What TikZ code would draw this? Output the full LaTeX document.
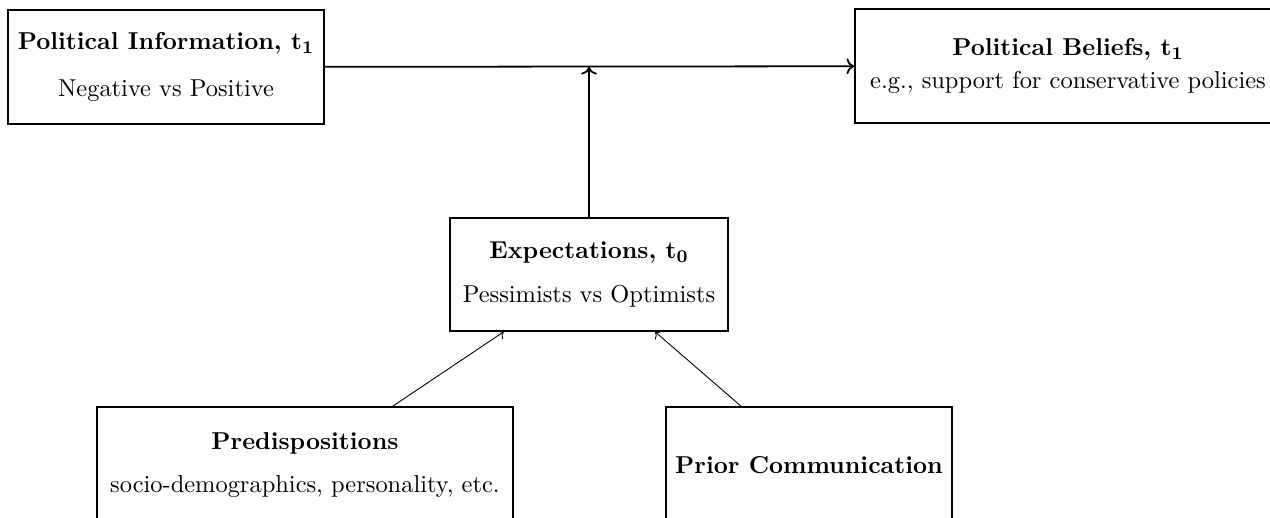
\documentclass[tikz,border=0pt]{standalone}
\usepackage{amsmath}
\usepackage{tikz}
\usetikzlibrary{
  arrows.meta,
  positioning,
  calc
}
\newcommand{\period}[1]{$\mathbf{t_{#1}}$}

\begin{document}
\begin{tikzpicture}[
  box/.style={
    draw=black,
    align=center,
    inner sep=2pt,
    font=\fontsize{10.95}{13.6}\selectfont
  },
  mainbox/.style={box, thick, minimum height=1.795cm},
  subbox/.style={box, semithick}
]
\useasboundingbox (0,0) rectangle (20,8.142);

\node[mainbox, minimum width=4.976cm] (info) at (2.614,7.087)
  {\textbf{Political Information, \period{1}}\\[7.5pt] Negative vs Positive};
\node[mainbox, minimum width=6.709cm] (beliefs) at (16.819,7.102)
  {\textbf{Political Beliefs, \period{1}}\\[1.2pt] e.g., support for conservative policies};
\node[subbox, minimum width=4.378cm, minimum height=1.78cm] (expect) at (9.276,3.819)
  {\textbf{Expectations, \period{0}}\\[5.7pt] Pessimists vs Optimists};
\node[subbox, minimum width=6.551cm, minimum height=1.827cm] (pred) at (4.803,0.819)
  {\textbf{Predispositions}\\[6pt] socio-demographics, personality, etc.};
\node[subbox, minimum width=4.504cm, minimum height=1.827cm] (prior) at (12.740,0.819)
  {\textbf{Prior Communication}};

\draw[-{To}, thick] (info) -- (beliefs);
\draw[-{To}, thick] (expect) -- (expect |- info);
\draw[-{To}, thin] (pred) -- (expect);
\draw[-{To}, thin] (prior) -- (expect);
\end{tikzpicture}
\end{document}
